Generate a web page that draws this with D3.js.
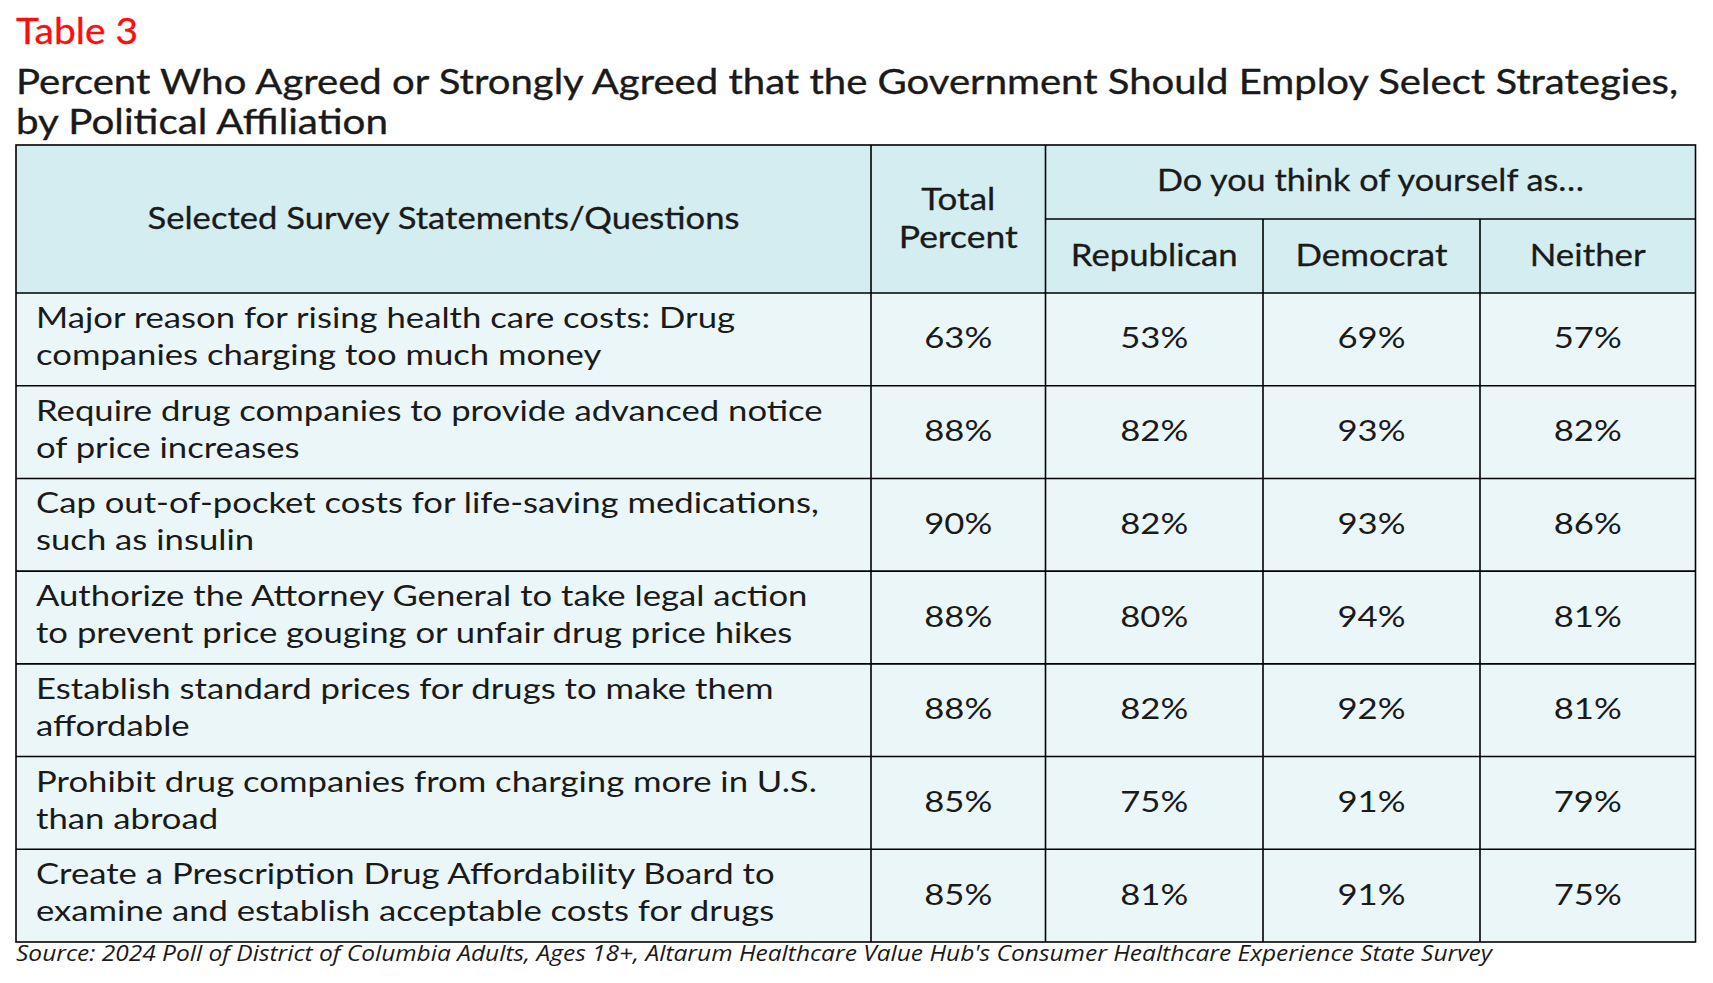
<!DOCTYPE html>
<html><head><meta charset="utf-8">
<script src="https://cdn.jsdelivr.net/npm/d3@7/dist/d3.min.js"></script>
<style>
html,body{margin:0;padding:0;background:#fff;}
svg{display:block;}
</style></head>
<body>
<svg id="chart" width="1713" height="983"></svg>
<script>
// ---- data ----
const tableLabel = "Table 3";
const titleLines = ["Percent Who Agreed or Strongly Agreed that the Government Should Employ Select Strategies,", "by Political Affiliation"];
const statements = [
  ["Major reason for rising health care costs: Drug", "companies charging too much money"],
  ["Require drug companies to provide advanced notice", "of price increases"],
  ["Cap out-of-pocket costs for life-saving medications,", "such as insulin"],
  ["Authorize the Attorney General to take legal action", "to prevent price gouging or unfair drug price hikes"],
  ["Establish standard prices for drugs to make them", "affordable"],
  ["Prohibit drug companies from charging more in U.S.", "than abroad"],
  ["Create a Prescription Drug Affordability Board to", "examine and establish acceptable costs for drugs"]
];
const totalPct    = [63, 88, 90, 88, 88, 85, 85];
const republican  = [53, 82, 82, 80, 82, 75, 81];
const democrat    = [69, 93, 93, 94, 92, 91, 91];
const neither     = [57, 82, 86, 81, 81, 79, 75];
const statementHeader = "Selected Survey Statements/Questions";
const totalHeader = ["Total", "Percent"];
const groupHeader = "Do you think of yourself as\u2026";
const subHeaders = ["Republican", "Democrat", "Neither"];
const sourceText = "Source: 2024 Poll of District of Columbia Adults, Ages 18+, Altarum Healthcare Value Hub's Consumer Healthcare Experience State Survey";

// ---- layout ----
const svg = d3.select("#chart");
const FONT = "Lato, 'Open Sans', sans-serif";
const colEdges = [16, 871, 1045.5, 1263, 1480, 1695.5];
const tableTop = 145, subLineY = 219, headerBottom = 293, tableBottom = 942;
const headFill = "#d4edf1", bodyFill = "#eaf6f8", ink = "#1a1a1a";

const y = d3.scaleBand().domain(d3.range(statements.length)).range([headerBottom, tableBottom]).padding(0);
const valueCols = [totalPct, republican, democrat, neither];

function fit(sel, w) { sel.attr("textLength", w).attr("lengthAdjust", "spacingAndGlyphs"); }

// title
svg.append("text").attr("x", 16).attr("y", 44).attr("fill", "#ff0d0d")
  .attr("stroke", "#ff0d0d").attr("stroke-width", 0.3)
  .style("font-family", FONT).style("font-size", "36px").text(tableLabel)
  .call(fit, 122);
const titleG = svg.append("g").attr("fill", ink).attr("stroke", ink).attr("stroke-width", 0.35)
  .style("font-family", FONT).style("font-size", "34px");
titleG.append("text").attr("x", 16).attr("y", 94).text(titleLines[0]).call(fit, 1662);
titleG.append("text").attr("x", 16).attr("y", 134).text(titleLines[1]).call(fit, 372);

// backgrounds
svg.append("rect").attr("x", colEdges[0]).attr("y", tableTop)
  .attr("width", colEdges[5] - colEdges[0]).attr("height", headerBottom - tableTop).attr("fill", headFill);
svg.append("g").selectAll("rect").data(statements).join("rect")
  .attr("x", colEdges[0]).attr("y", (d, i) => y(i))
  .attr("width", colEdges[5] - colEdges[0]).attr("height", y.bandwidth()).attr("fill", bodyFill);

// header text
const hdr = svg.append("g").style("font-family", FONT).attr("fill", ink)
  .attr("stroke", ink).attr("stroke-width", 0.3).attr("text-anchor", "middle").style("font-size", "31px");
hdr.append("text").attr("x", (colEdges[0] + colEdges[1]) / 2).attr("y", 229)
  .text(statementHeader).call(fit, 592);
hdr.append("text").attr("x", (colEdges[1] + colEdges[2]) / 2).attr("y", 210)
  .text(totalHeader[0]).call(fit, 74);
hdr.append("text").attr("x", (colEdges[1] + colEdges[2]) / 2).attr("y", 248)
  .text(totalHeader[1]).call(fit, 119);
hdr.append("text").attr("x", (colEdges[2] + colEdges[5]) / 2).attr("y", 191)
  .text(groupHeader).call(fit, 427);
const subW = [167, 152, 116];
subHeaders.forEach((s, k) => {
  hdr.append("text").attr("x", (colEdges[k + 2] + colEdges[k + 3]) / 2).attr("y", 266)
    .text(s).call(fit, subW[k]);
});

// body statements
const body = svg.append("g").style("font-family", FONT).attr("fill", ink).style("font-size", "29px");
const probe = body.append("text").text(statements[0][0]);
const ratio = 699 / probe.node().getComputedTextLength();
probe.remove();
statements.forEach((lines, i) => {
  lines.forEach((ln, j) => {
    const t = body.append("text").attr("x", 36).attr("y", y(i) + 35 + j * 37).text(ln);
    const w = t.node().getComputedTextLength();
    t.call(fit, w * ratio);
  });
});

// values
const vals = svg.append("g").style("font-family", FONT).attr("fill", ink)
  .style("font-size", "29px").attr("text-anchor", "middle");
valueCols.forEach((arr, k) => {
  vals.selectAll(null).data(arr).join("text")
    .attr("x", (colEdges[k + 1] + colEdges[k + 2]) / 2)
    .attr("y", (d, i) => y(i) + y.bandwidth() / 2 + 9)
    .text(d => d + "%")
    .each(function () { const w = this.getComputedTextLength(); d3.select(this).call(fit, w * ratio); });
});

// grid lines
const lines = svg.append("g").attr("stroke", "#000").attr("stroke-width", 1.6).attr("fill", "none");
lines.append("rect").attr("x", colEdges[0]).attr("y", tableTop)
  .attr("width", colEdges[5] - colEdges[0]).attr("height", tableBottom - tableTop);
lines.append("line").attr("x1", colEdges[2]).attr("x2", colEdges[5]).attr("y1", subLineY).attr("y2", subLineY);
lines.selectAll(null).data(d3.range(statements.length)).join("line")
  .attr("x1", colEdges[0]).attr("x2", colEdges[5])
  .attr("y1", i => y(i)).attr("y2", i => y(i));
lines.append("line").attr("x1", colEdges[1]).attr("x2", colEdges[1]).attr("y1", tableTop).attr("y2", tableBottom);
lines.append("line").attr("x1", colEdges[2]).attr("x2", colEdges[2]).attr("y1", tableTop).attr("y2", tableBottom);
lines.append("line").attr("x1", colEdges[3]).attr("x2", colEdges[3]).attr("y1", subLineY).attr("y2", tableBottom);
lines.append("line").attr("x1", colEdges[4]).attr("x2", colEdges[4]).attr("y1", subLineY).attr("y2", tableBottom);

// source
svg.append("text").attr("x", 16).attr("y", 961).attr("fill", ink)
  .style("font-family", "'Open Sans', sans-serif").style("font-style", "italic").style("font-size", "21px")
  .text(sourceText).call(fit, 1476);
</script>
</body></html>
